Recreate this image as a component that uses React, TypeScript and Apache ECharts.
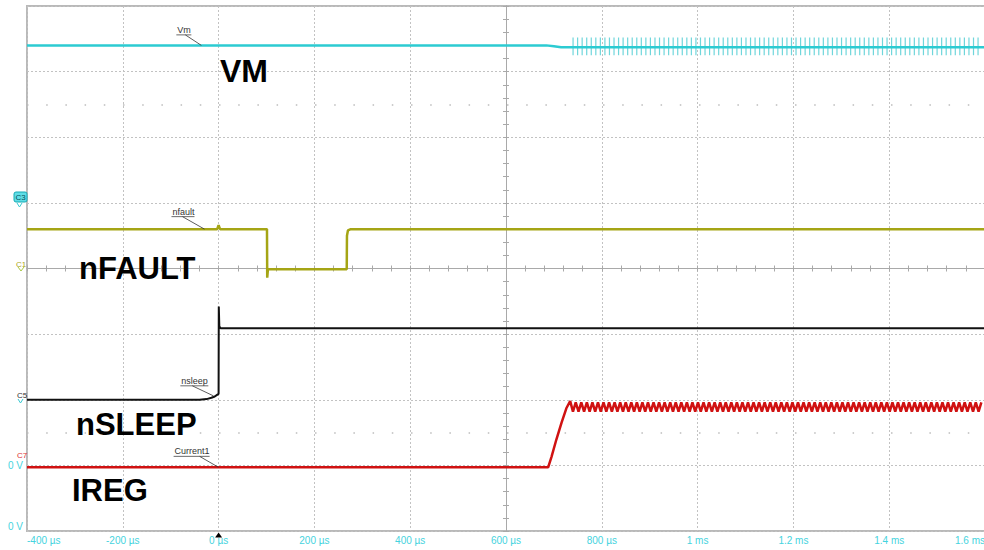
import React, { useEffect, useRef } from "react";
import * as echarts from "echarts";

// ---- axis setup (time in µs, vertical in scope divisions) ----
const X_MIN = -400;
const X_MAX = 1600;
const X_STEP = 200;
const DIVS = 8;

// ---- VM (cyan) ----
const VM_T = [-400, 684, 700, 715, 1600];
const VM_V = [7.4, 7.4, 7.385, 7.37, 7.37];
const VM_SPIKE_T = [
  740, 749.5, 759, 768.5, 778, 787.5, 797, 806.5, 816, 825.5, 835, 844.5, 854, 863.5, 873, 882.5,
  892, 901.5, 911, 920.5, 930, 939.5, 949, 958.5, 968, 977.5, 987, 996.5, 1006, 1015.5, 1025,
  1034.5, 1044, 1053.5, 1063, 1072.5, 1082, 1091.5, 1101, 1110.5, 1120, 1129.5, 1139, 1148.5,
  1158, 1167.5, 1177, 1186.5, 1196, 1205.5, 1215, 1224.5, 1234, 1243.5, 1253, 1262.5, 1272,
  1281.5, 1291, 1300.5, 1310, 1319.5, 1329, 1338.5, 1348, 1357.5, 1367, 1376.5, 1386, 1395.5,
  1405, 1414.5, 1424, 1433.5, 1443, 1452.5, 1462, 1471.5, 1481, 1490.5, 1500, 1509.5, 1519,
  1528.5, 1538, 1547.5, 1557, 1566.5, 1576, 1585.5,
];
const VM_SPIKE_TOP = 7.52;
const VM_SPIKE_BOTTOM = 7.25;

// ---- nFAULT (olive) ----
const NFAULT_T = [-400, -3, 0, 3, 101, 101.5, 103, 267.5, 268, 270, 276, 1600];
const NFAULT_V = [4.6, 4.6, 4.66, 4.6, 4.6, 3.86, 3.99, 3.99, 4.5, 4.58, 4.6, 4.6];

// ---- nSLEEP (black) ----
const NSLEEP_T = [-400, -40, -25, -15, -8, -4, 0, 0.4, 1.5, 4, 1600];
const NSLEEP_V = [2.0, 2.0, 2.01, 2.03, 2.05, 2.07, 2.09, 3.42, 3.12, 3.09, 3.09];

// ---- IREG (red) ----
const IREG_T = [-400, 688, 695, 705, 716, 726, 734];
const IREG_V = [0.97, 0.97, 1.13, 1.39, 1.65, 1.87, 1.98];
const IREG_PEAK_T = [
  745.6, 757.2, 768.8, 780.4, 792.0, 803.6, 815.2, 826.8, 838.4, 850.0, 861.6, 873.2, 884.8,
  896.4, 908.0, 919.6, 931.2, 942.8, 954.4, 966.0, 977.6, 989.2, 1000.8, 1012.4, 1024.0, 1035.6,
  1047.2, 1058.8, 1070.4, 1082.0, 1093.6, 1105.2, 1116.8, 1128.4, 1140.0, 1151.6, 1163.2, 1174.8,
  1186.4, 1198.0, 1209.6, 1221.2, 1232.8, 1244.4, 1256.0, 1267.6, 1279.2, 1290.8, 1302.4, 1314.0,
  1325.6, 1337.2, 1348.8, 1360.4, 1372.0, 1383.6, 1395.2, 1406.8, 1418.4, 1430.0, 1441.6, 1453.2,
  1464.8, 1476.4, 1488.0, 1499.6, 1511.2, 1522.8, 1534.4, 1546.0, 1557.6, 1569.2, 1580.8, 1592.4,
];
const IREG_PEAK = 1.96;
const IREG_TROUGH = 1.82;

// ---- tick labels ----
const Y_LABELS: Record<number, string> = { 0: "0 V", 1: "0 V" };

const FONT = '"Liberation Sans", Arial, sans-serif';
const CYAN = "#2ccbd2";
const OLIVE = "#a5a515";
const BLACK = "#111111";
const RED = "#d01212";
const LABEL_CYAN = "#45d3de";
const AXIS_GRAY = "#a9a9a9";

const zip = (t: number[], v: number[]) => t.map((x, i) => [x, v[i]]);

function iregData() {
  const pts = zip(IREG_T, IREG_V);
  let prev = IREG_T[IREG_T.length - 1];
  for (const p of IREG_PEAK_T) {
    pts.push([(prev + p) / 2, IREG_TROUGH]);
    pts.push([p, IREG_PEAK]);
    prev = p;
  }
  return pts;
}

function fmtTime(v: number) {
  if (Math.abs(v) >= 1000) return `${v / 1000} ms`;
  return `${v} µs`;
}

function centerAxisX(inside: boolean) {
  return {
    type: "value",
    min: X_MIN,
    max: X_MAX,
    interval: 40,
    axisLine: { show: true, onZero: true, onZeroAxisIndex: 1, lineStyle: { color: AXIS_GRAY, width: 1 } },
    axisTick: { show: true, length: 3, inside, lineStyle: { color: AXIS_GRAY, width: 1 } },
    axisLabel: { show: false },
    splitLine: { show: false },
  };
}

function centerAxisY(inside: boolean) {
  return {
    type: "value",
    min: 0,
    max: DIVS,
    interval: 0.2,
    axisLine: { show: true, onZero: true, onZeroAxisIndex: 3, lineStyle: { color: AXIS_GRAY, width: 1 } },
    axisTick: { show: true, length: 3, inside, lineStyle: { color: AXIS_GRAY, width: 1 } },
    axisLabel: { show: false },
    splitLine: { show: false },
  };
}

export default function App() {
  const ref = useRef<HTMLDivElement>(null);

  useEffect(() => {
    if (!ref.current) return;
    const chart = echarts.init(ref.current, null, { renderer: "svg" });
    const gridLine = { show: true, lineStyle: { color: "#c2c2c2", type: [2, 2], width: 1 } };
    const lineBase = { type: "line", symbol: "none", showSymbol: false, silent: true, animation: false };

    const option: any = {
      animation: false,
      backgroundColor: "#ffffff",
      grid: {
        left: 27,
        top: 6,
        right: 0,
        bottom: 19,
        show: true,
        borderColor: "#b9b9b9",
        borderWidth: 2,
      },
      xAxis: [
        {
          type: "value",
          min: X_MIN,
          max: X_MAX,
          interval: X_STEP,
          position: "bottom",
          axisLine: { show: false, onZero: false },
          axisTick: { show: false },
          axisLabel: {
            color: LABEL_CYAN,
            fontSize: 10,
            fontFamily: FONT,
            margin: 4,
            formatter: fmtTime,
            showMinLabel: true,
            showMaxLabel: true,
            alignMinLabel: "left",
            alignMaxLabel: "right",
          },
          splitLine: gridLine,
        },
        centerAxisX(false),
        centerAxisX(true),
        { type: "value", min: -1000, max: 1000, show: false },
      ],
      yAxis: [
        {
          type: "value",
          min: 0,
          max: DIVS,
          interval: 1,
          axisLine: { show: false, onZero: false },
          axisTick: { show: false },
          axisLabel: {
            color: LABEL_CYAN,
            fontSize: 10,
            fontFamily: FONT,
            margin: 4,
            formatter: (v: number) => Y_LABELS[v] ?? "",
            showMinLabel: true,
            verticalAlignMinLabel: "bottom",
          },
          splitLine: gridLine,
        },
        { type: "value", min: -4, max: 4, show: false },
        centerAxisY(false),
        centerAxisY(true),
      ],
      series: [
        {
          ...lineBase,
          name: "VM",
          data: zip(VM_T, VM_V),
          z: 4,
          lineStyle: { color: CYAN, width: 2.5 },
          itemStyle: { color: CYAN },
          markLine: {
            silent: true,
            animation: false,
            symbol: ["none", "none"],
            label: { show: false },
            lineStyle: { color: "#bdbdbd", type: [1.5, 17.7], width: 1.5 },
            data: [{ yAxis: 6.5 }, { yAxis: 1.5 }],
          },
        },
        {
          type: "custom",
          name: "VM spikes",
          silent: true,
          animation: false,
          z: 3,
          encode: { x: 0, y: [1, 2] },
          data: VM_SPIKE_T.map((t) => [t, VM_SPIKE_TOP, VM_SPIKE_BOTTOM]),
          renderItem: (_p: any, api: any) => {
            const a = api.coord([api.value(0), api.value(1)]);
            const b = api.coord([api.value(0), api.value(2)]);
            return {
              type: "line",
              shape: { x1: a[0], y1: a[1], x2: b[0], y2: b[1] },
              style: { stroke: "#3fc8cf", lineWidth: 1.2, opacity: 0.75 },
            };
          },
        },
        {
          ...lineBase,
          name: "nFAULT",
          data: zip(NFAULT_T, NFAULT_V),
          z: 4,
          lineStyle: { color: OLIVE, width: 2.5 },
          itemStyle: { color: OLIVE },
        },
        {
          ...lineBase,
          name: "nSLEEP",
          data: zip(NSLEEP_T, NSLEEP_V),
          z: 4,
          lineStyle: { color: BLACK, width: 2 },
          itemStyle: { color: BLACK },
        },
        {
          ...lineBase,
          name: "IREG",
          data: iregData(),
          z: 4,
          lineStyle: { color: RED, width: 2.5 },
          itemStyle: { color: RED },
        },
      ],
    };
    chart.setOption(option);

    const px = (t: number, v: number) =>
      chart.convertToPixel({ xAxisIndex: 0, yAxisIndex: 0 }, [t, v]) as number[];

    const bigText = (text: string, x: number, y: number, size: number) => ({
      type: "text",
      x,
      y,
      z: 10,
      silent: true,
      style: {
        text,
        font: `bold ${size}px ${FONT}`,
        fill: "#000",
        align: "left",
        verticalAlign: "middle",
      },
    });

    const tagText = (text: string, x: number, y: number, w: number, ax: number, ay: number, lx: number) => [
      {
        type: "text",
        x,
        y,
        z: 10,
        silent: true,
        style: { text, font: `9px ${FONT}`, fill: "#333", align: "left", verticalAlign: "middle" },
      },
      {
        type: "line",
        z: 10,
        silent: true,
        shape: { x1: x - 1, y1: y + 5, x2: x + w, y2: y + 5 },
        style: { stroke: "#444", lineWidth: 0.8 },
      },
      {
        type: "line",
        z: 10,
        silent: true,
        shape: { x1: lx, y1: y + 5, x2: ax, y2: ay },
        style: { stroke: "#333", lineWidth: 0.8 },
      },
    ];

    const smallText = (text: string, x: number, y: number, fill: string) => ({
      type: "text",
      x,
      y,
      z: 10,
      silent: true,
      style: { text, font: `8px ${FONT}`, fill, align: "left", verticalAlign: "middle" },
    });

    const vmA = px(-36, VM_V[0]);
    const nfA = px(-29.5, NFAULT_V[0]);
    const nsA = px(-11, 2.06);
    const irA = px(0, IREG_V[0]);
    const trig = px(0, 0);

    const graphic: any[] = [
      bigText("VM", 220, 70.5, 32),
      bigText("nFAULT", 79, 268, 31),
      bigText("nSLEEP", 76, 424, 31),
      bigText("IREG", 72, 490, 31),
      ...tagText("Vm", vmA[0] - 24, vmA[1] - 15.5, 14, vmA[0], vmA[1], vmA[0] - 16),
      ...tagText("nfault", nfA[0] - 32, nfA[1] - 17.5, 22, nfA[0], nfA[1], nfA[0] - 22),
      ...tagText("nsleep", nsA[0] - 32, nsA[1] - 15, 27, nsA[0], nsA[1], nsA[0] - 21),
      ...tagText("Current1", irA[0] - 44, irA[1] - 16, 35, irA[0], irA[1], irA[0] - 19),
      // channel markers
      {
        type: "rect",
        z: 10,
        silent: true,
        shape: { x: 14, y: 192, width: 13, height: 10, r: 2 },
        style: { fill: "#5fdde6", stroke: "#16aab4", lineWidth: 1 },
      },
      smallText("C3", 15.5, 197, "#05505a"),
      {
        type: "polyline",
        z: 10,
        silent: true,
        shape: { points: [[17, 203], [19.5, 207], [22, 203]] },
        style: { stroke: "#39c9d2", fill: "none", lineWidth: 1 },
      },
      smallText("C1", 16, 264, "#aaa420"),
      {
        type: "polyline",
        z: 10,
        silent: true,
        shape: { points: [[18, 267], [21, 271], [24, 267]] },
        style: { stroke: "#a8c844", fill: "none", lineWidth: 1 },
      },
      smallText("C5", 17, 395, "#333"),
      {
        type: "polyline",
        z: 10,
        silent: true,
        shape: { points: [[18, 399], [20.5, 403], [23, 399]] },
        style: { stroke: "#39c9d2", fill: "none", lineWidth: 1 },
      },
      smallText("C7", 17, 455.5, "#d33"),
      // trigger marker
      {
        type: "polygon",
        z: 10,
        silent: true,
        shape: { points: [[trig[0] - 3.5, trig[1] + 6.5], [trig[0] + 3.5, trig[1] + 6.5], [trig[0], trig[1] + 1.5]] },
        style: { fill: "#000" },
      },
    ];
    chart.setOption({ graphic });

    return () => chart.dispose();
  }, []);

  return (
    <div
      ref={ref}
      style={{ position: "fixed", left: 0, top: 0, width: 988, height: 550, background: "#fff" }}
    />
  );
}
